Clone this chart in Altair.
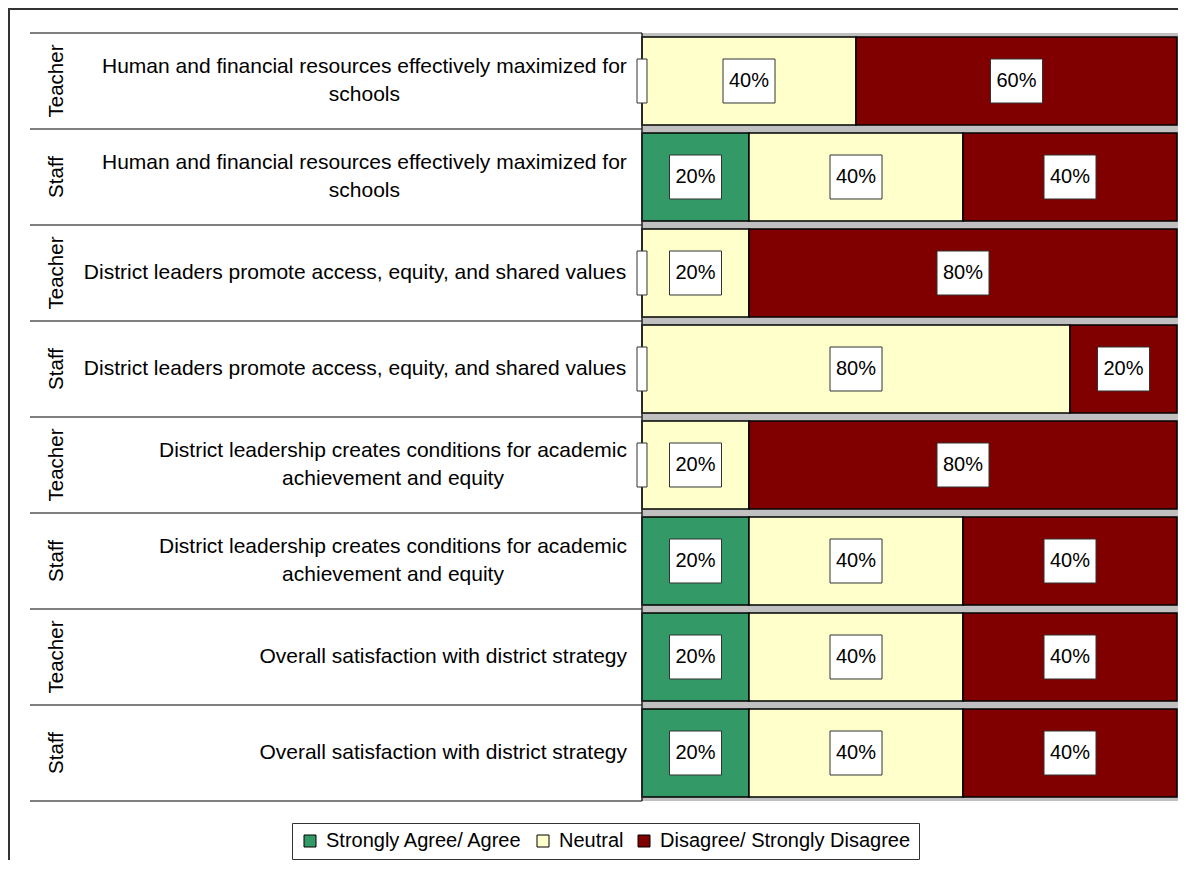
import altair as alt
import pandas as pd

# ---------------- data ----------------
GROUPS = ["Teacher", "Staff", "Teacher", "Staff", "Teacher", "Staff", "Teacher", "Staff"]
QUESTIONS = [
    "Human and financial resources effectively maximized for|schools",
    "Human and financial resources effectively maximized for|schools",
    "District leaders promote access, equity, and shared values",
    "District leaders promote access, equity, and shared values",
    "District leadership creates conditions for academic|achievement and equity",
    "District leadership creates conditions for academic|achievement and equity",
    "Overall satisfaction with district strategy",
    "Overall satisfaction with district strategy",
]
RESPONSES = ["Strongly Agree/ Agree", "Neutral", "Disagree/ Strongly Disagree"]
AGREE = [0, 20, 0, 0, 0, 20, 20, 20]
NEUTRAL = [40, 40, 20, 80, 20, 40, 40, 40]
DISAGREE = [60, 40, 80, 20, 80, 40, 40, 40]

# ---------------- style ----------------
COLORS = ["#339966", "#FFFFCC", "#800000"]
FONT = "Liberation Sans"
W, H = 1170, 852
X_RANGE = [634, 1169]
Y_RANGE = [25, 793]
Q_RIGHT = 619
Q_SIZE = 21
LINE_H = 28

ARIAL = {' ': 278, ',': 278, 'H': 722, 'D': 722, 'O': 778, 'a': 556, 'b': 556, 'c': 500,
         'd': 556, 'e': 556, 'f': 278, 'g': 556, 'h': 556, 'i': 222, 'j': 222, 'k': 500,
         'l': 222, 'm': 833, 'n': 556, 'o': 556, 'p': 556, 'q': 556, 'r': 333, 's': 500,
         't': 278, 'u': 556, 'v': 500, 'w': 722, 'x': 500, 'y': 500, 'z': 500}


def text_width(s, size):
    return sum(ARIAL.get(ch, 556) for ch in s) * size / 1000.0


def px_to_data(px):
    return (px - X_RANGE[0]) / (X_RANGE[1] - X_RANGE[0])


rows = []
segs = []
for i, (g, q) in enumerate(zip(GROUPS, QUESTIONS)):
    wmax = max(text_width(line, Q_SIZE) for line in q.split("|"))
    rows.append({"row": i, "group": g, "question": q,
                 "nlines": len(q.split("|")),
                 "qx": px_to_data(Q_RIGHT - wmax / 2),
                 "g0": 0.0, "g1": 1.003})
    start = 0
    for resp, v in zip(RESPONSES, (AGREE[i], NEUTRAL[i], DISAGREE[i])):
        segs.append({"row": i, "response": resp, "value": v,
                     "start": start / 100, "end": (start + v) / 100,
                     "mid": (start + v / 2) / 100, "label": f"{v}%"})
        start += v

rows_df = pd.DataFrame(rows)
seg_df = pd.DataFrame(segs)
nz = seg_df[seg_df["value"] > 0]
zero = seg_df[(seg_df["value"] == 0) & (seg_df["response"] == RESPONSES[0])]

xscale = alt.Scale(domain=[0, 1], range=X_RANGE, zero=False, nice=False)
yscale = alt.Scale(domain=list(range(len(GROUPS))), range=Y_RANGE, paddingInner=0, paddingOuter=0)
Y = alt.Y("row:O", scale=yscale, axis=None)
XA = dict(scale=xscale, axis=None)

top_border = alt.Chart(rows_df.head(1)).mark_rule(color="#333333", strokeWidth=2).encode(
    x=alt.value(0), x2=alt.value(W), y=alt.value(1))
left_border = alt.Chart(rows_df.head(1)).mark_rule(color="#333333", strokeWidth=2).encode(
    x=alt.value(1), y=alt.value(0), y2=alt.value(H))

gray = alt.Chart(rows_df).mark_rect(color="#C0C0C0").encode(
    x=alt.X("g0:Q", **XA), x2="g1:Q", y=Y)

seps = alt.Chart(rows_df).mark_rule(color="#555555", strokeWidth=1.5).encode(
    x=alt.value(22), x2=alt.value(X_RANGE[0]),
    y=alt.Y("row:O", scale=yscale, axis=None, bandPosition=0))
sep_bottom = alt.Chart(rows_df[rows_df["row"] == len(GROUPS) - 1]).mark_rule(
    color="#555555", strokeWidth=1.5).encode(
    x=alt.value(22), x2=alt.value(X_RANGE[0]),
    y=alt.Y("row:O", scale=yscale, axis=None, bandPosition=1))

vline = alt.Chart(rows_df.head(1)).mark_rule(color="#222222", strokeWidth=1.5).encode(
    x=alt.X("g0:Q", **XA), y=alt.value(Y_RANGE[0]), y2=alt.value(Y_RANGE[1]))

bars = alt.Chart(nz).mark_bar(size=88, stroke="black", strokeWidth=1.5).encode(
    x=alt.X("start:Q", **XA),
    x2="end:Q",
    y=Y,
    color=alt.Color("response:N",
                    scale=alt.Scale(domain=RESPONSES, range=COLORS),
                    legend=alt.Legend(orient="none", legendX=284, legendY=815,
                                      direction="horizontal", title=None,
                                      symbolType="square", symbolSize=144,
                                      symbolStrokeColor="black", symbolStrokeWidth=1,
                                      symbolOpacity=1,
                                      labelFont=FONT, labelFontSize=20, labelColor="black",
                                      labelLimit=0, labelOffset=6, columnPadding=10,
                                      padding=8, strokeColor="#333333", fillColor="white")),
)

BOX = "M-1,-0.846L1,-0.846L1,0.846L-1,0.846Z"
THIN = "M-0.227,-1L0.227,-1L0.227,1L-0.227,1Z"
boxes = alt.Chart(nz).mark_point(shape=BOX, size=2704, filled=True, fill="white",
                                 stroke="#333333", strokeWidth=1, opacity=1).encode(
    x=alt.X("mid:Q", **XA), y=Y)
zboxes = alt.Chart(zero).mark_point(shape=THIN, size=1936, filled=True, fill="white",
                                    stroke="#333333", strokeWidth=1, opacity=1).encode(
    x=alt.X("mid:Q", **XA), y=Y)
labels = alt.Chart(nz).mark_text(font=FONT, fontSize=20, color="black",
                                 align="center", baseline="middle").encode(
    x=alt.X("mid:Q", **XA), y=Y, text="label:N")

groups = alt.Chart(rows_df).mark_text(font=FONT, fontSize=20.5, color="black", angle=270,
                                      align="center", baseline="alphabetic").encode(
    x=alt.value(55), y=Y, text="group:N")

q_layers = []
for n in sorted(rows_df["nlines"].unique()):
    sub = rows_df[rows_df["nlines"] == n]
    q_layers.append(
        alt.Chart(sub).mark_text(font=FONT, fontSize=Q_SIZE, color="black",
                                 align="center", baseline="middle",
                                 lineBreak="|", lineHeight=LINE_H,
                                 dy=-(int(n) - 1) * LINE_H / 2).encode(
            x=alt.X("qx:Q", **XA), y=Y, text="question:N")
    )

chart = alt.layer(
    top_border, left_border, gray, seps, sep_bottom, bars, vline,
    boxes, zboxes, labels, groups, *q_layers
).properties(
    width=W, height=H, padding=0,
    autosize=alt.AutoSizeParams(type="none"),
).configure_view(stroke=None)

chart.save("out.html", embed_options={"renderer": "svg", "actions": False})
